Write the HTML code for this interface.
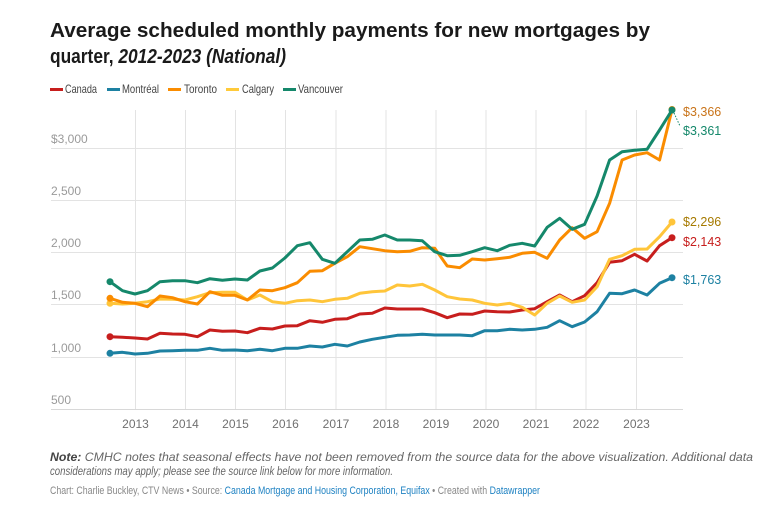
<!DOCTYPE html>
<html><head><meta charset="utf-8"><style>
html,body{margin:0;padding:0;background:#fff;}
svg{display:block;font-family:"Liberation Sans",Arial,sans-serif;}
.g{stroke:#e3e3e3;stroke-width:1;}
.yl{fill:#9a9a9a;font-size:12px;}
.xl{fill:#707070;font-size:12px;text-anchor:middle;}
.s{fill:none;stroke-width:3;stroke-linejoin:round;stroke-linecap:round;}
</style></head><body>
<svg width="773" height="509" viewBox="0 0 773 509">
<text x="50" y="37" font-size="20" font-weight="bold" fill="#1a1a1a" textLength="600" lengthAdjust="spacingAndGlyphs">Average scheduled monthly payments for new mortgages by</text>
<text x="50" y="63" font-size="20" font-weight="bold" fill="#1a1a1a" textLength="236" lengthAdjust="spacingAndGlyphs">quarter, <tspan font-style="italic">2012-2023 (National)</tspan></text>

<g font-size="12" fill="#444">
<rect x="50" y="88" width="13" height="3" fill="#c71e1d"/><text x="65" y="93" textLength="32" lengthAdjust="spacingAndGlyphs">Canada</text>
<rect x="107" y="88" width="13" height="3" fill="#1d81a2"/><text x="122" y="93" textLength="37" lengthAdjust="spacingAndGlyphs">Montréal</text>
<rect x="168" y="88" width="13" height="3" fill="#fa8c00"/><text x="184" y="93" textLength="33" lengthAdjust="spacingAndGlyphs">Toronto</text>
<rect x="226" y="88" width="13" height="3" fill="#ffca3a"/><text x="242" y="93" textLength="32" lengthAdjust="spacingAndGlyphs">Calgary</text>
<rect x="283" y="88" width="13" height="3" fill="#15886b"/><text x="298" y="93" textLength="45" lengthAdjust="spacingAndGlyphs">Vancouver</text>
</g>

<g class="g">
<line x1="51" x2="683" y1="148.5" y2="148.5"/>
<line x1="51" x2="683" y1="200.5" y2="200.5"/>
<line x1="51" x2="683" y1="252.5" y2="252.5"/>
<line x1="51" x2="683" y1="304.5" y2="304.5"/>
<line x1="51" x2="683" y1="357.5" y2="357.5"/>
<line x1="51" x2="683" y1="409.5" y2="409.5" stroke="#d8d8d8"/>
<line x1="135.5" x2="135.5" y1="110" y2="409"/>
<line x1="185.5" x2="185.5" y1="110" y2="409"/>
<line x1="235.5" x2="235.5" y1="110" y2="409"/>
<line x1="285.5" x2="285.5" y1="110" y2="409"/>
<line x1="336" x2="336" y1="110" y2="409"/>
<line x1="386" x2="386" y1="110" y2="409"/>
<line x1="436" x2="436" y1="110" y2="409"/>
<line x1="486" x2="486" y1="110" y2="409"/>
<line x1="536" x2="536" y1="110" y2="409"/>
<line x1="586" x2="586" y1="110" y2="409"/>
<line x1="636.5" x2="636.5" y1="110" y2="409"/>
</g>
<text class="yl" x="51" y="143">$3,000</text>
<text class="yl" x="51" y="195">2,500</text>
<text class="yl" x="51" y="247">2,000</text>
<text class="yl" x="51" y="299">1,500</text>
<text class="yl" x="51" y="352">1,000</text>
<text class="yl" x="51" y="404">500</text>
<g>
<text class="xl" x="135.5" y="428">2013</text><text class="xl" x="185.5" y="428">2014</text><text class="xl" x="235.5" y="428">2015</text><text class="xl" x="285.5" y="428">2016</text><text class="xl" x="336" y="428">2017</text><text class="xl" x="386" y="428">2018</text><text class="xl" x="436" y="428">2019</text><text class="xl" x="486" y="428">2020</text><text class="xl" x="536" y="428">2021</text><text class="xl" x="586" y="428">2022</text><text class="xl" x="636.5" y="428">2023</text>
</g>

<g transform="translate(110,0) scale(12.49,1)">
<polyline class="s" vector-effect="non-scaling-stroke" stroke="#1d81a2" points="0,353.3 1,352.3 2,354 3,353.3 4,351 5,350.7 6,350.3 7,350.3 8,348.3 9,350.3 10,350 11,350.7 12,349.3 13,350.7 14,348.3 15,348.3 16,346 17,347 18,344.3 19,346 20,342 21,339.3 22,337.3 23,335.3 24,335 25,334.3 26,335 27,335 28,335 29,335.7 30,330.7 31,330.7 32,329.3 33,330 34,329.3 35,327.3 36,320.7 37,326.7 38,322 39,311.7 40,293.3 41,293.7 42,290 43,295 44,283.3 45,277.7"/>
<polyline class="s" vector-effect="non-scaling-stroke" stroke="#c71e1d" points="0,336.7 1,337.3 2,338 3,339 4,333.3 5,334 6,334.3 7,336.7 8,330 9,331.3 10,331 11,332.7 12,328.3 13,329 14,326 15,325.7 16,320.7 17,322.3 18,319.3 19,318.7 20,314 21,313.3 22,308 23,309 24,309 25,309 26,312.7 27,317.7 28,314 29,314.3 30,311 31,311.7 32,312 33,310 34,308.7 35,301.7 36,295 37,301.7 38,295.7 39,282.7 40,262.3 41,260.7 42,254.3 43,261 44,245.7 45,237.7"/>
<polyline class="s" vector-effect="non-scaling-stroke" stroke="#ffc53a" points="0,303.3 1,304 2,303.3 3,301.7 4,299 5,299.3 6,300 7,296.7 8,292.7 9,292.3 10,292.3 11,300 12,295 13,301.7 14,303.3 15,300.7 16,300 17,301.7 18,299.3 19,298.3 20,293.3 21,291.7 22,291 23,285 24,286 25,284.3 26,290 27,296.7 28,299 29,300 30,303.3 31,305 32,303.3 33,307.3 34,315 35,303.3 36,296 37,302.3 38,300 39,286.7 40,259.3 41,255.7 42,249.3 43,249 44,236.7 45,222"/>
<polyline class="s" vector-effect="non-scaling-stroke" stroke="#fa8c00" points="0,298.3 1,302.3 2,303.3 3,306.7 4,296 5,297.7 6,301.7 7,304 8,291.7 9,295.3 10,295.3 11,300 12,290 13,290.7 14,287.7 15,282.7 16,271.3 17,270.7 18,263.3 19,256.7 20,246.7 21,248.7 22,250.7 23,251.7 24,251.3 25,247.7 26,248.3 27,266 28,267.7 29,259 30,260 31,258.7 32,257.3 33,253.3 34,252.3 35,258.3 36,240 37,227.7 38,238.3 39,231.7 40,203.3 41,160 42,155 43,152.7 44,160 45,109.5"/>
<polyline class="s" vector-effect="non-scaling-stroke" stroke="#15886b" points="0,281.7 1,290.7 2,294 3,290.7 4,281.7 5,280.7 6,280.7 7,282.7 8,278.7 9,280.3 10,279 11,280 12,271 13,268 14,258 15,245.7 16,242.7 17,259.3 18,263.3 19,251.7 20,240 21,239.3 22,235 23,240 24,240 25,240.7 26,251.7 27,255.7 28,255.3 29,251.7 30,247.7 31,250.7 32,245.3 33,243.3 34,246 35,227.3 36,218.3 37,229.3 38,224.3 39,196 40,160 41,151.7 42,150.3 43,149.3 44,130 45,110"/>
</g>
<circle cx="110" cy="353.3" r="3.5" fill="#1d81a2"/><circle cx="110" cy="336.7" r="3.5" fill="#c71e1d"/><circle cx="110" cy="303.3" r="3.5" fill="#ffc53a"/><circle cx="110" cy="298.3" r="3.5" fill="#fa8c00"/><circle cx="110" cy="281.7" r="3.5" fill="#15886b"/>
<circle cx="672" cy="277.7" r="3.5" fill="#1d81a2"/><circle cx="672" cy="237.7" r="3.5" fill="#c71e1d"/><circle cx="672" cy="222" r="3.5" fill="#ffc53a"/><circle cx="672" cy="109.5" r="3.5" fill="#fa8c00"/><circle cx="672" cy="110" r="3.5" fill="#15886b"/>
<line x1="674" y1="113" x2="680" y2="126" stroke="#15886b" stroke-dasharray="1.5,1.5"/>
<g font-size="12.5">
<text x="683" y="116" fill="#c9741a">$3,366</text>
<text x="683" y="135" fill="#15886b">$3,361</text>
<text x="683" y="226" fill="#a67a00">$2,296</text>
<text x="683" y="246" fill="#c71e1d">$2,143</text>
<text x="683" y="284" fill="#1d81a2">$1,763</text>
</g>

<text x="50" y="461" font-size="12" fill="#666" font-style="italic" textLength="703" lengthAdjust="spacingAndGlyphs"><tspan font-weight="bold" fill="#444">Note:</tspan> CMHC notes that seasonal effects have not been removed from the source data for the above visualization. Additional data</text>
<text x="50" y="475" font-size="12" fill="#666" font-style="italic" textLength="343" lengthAdjust="spacingAndGlyphs">considerations may apply; please see the source link below for more information.</text>
<text x="50" y="494" font-size="11" fill="#888" textLength="490" lengthAdjust="spacingAndGlyphs">Chart: Charlie Buckley, CTV News • Source: <tspan fill="#1d81c2">Canada Mortgage and Housing Corporation, Equifax</tspan> • Created with <tspan fill="#1d81c2">Datawrapper</tspan></text>
</svg>
</body></html>
